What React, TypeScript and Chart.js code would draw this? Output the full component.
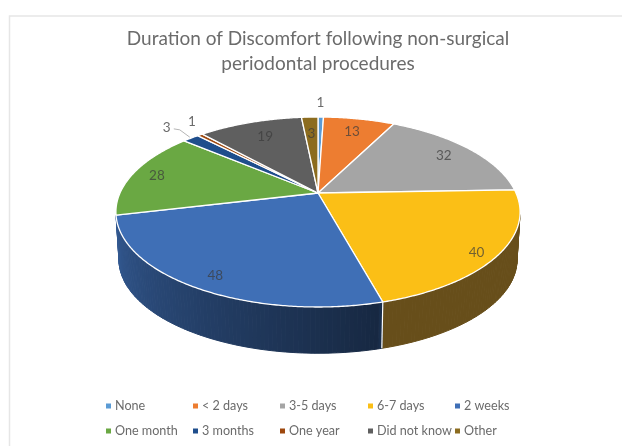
import React, { useEffect, useRef } from "react";
import { Chart, registerables } from "chart.js";

Chart.register(...registerables);

const titleLines = ["Duration of Discomfort following non-surgical", "periodontal procedures"];
const categories = ["None", "< 2 days", "3-5 days", "6-7 days", "2 weeks", "One month", "3 months", "One year", "Did not know", "Other"];
const responses = [1, 13, 32, 40, 48, 28, 3, 1, 19, 3];
const sliceColors = ["#5b9bd5", "#ed7d31", "#a5a5a5", "#fbbf16", "#3f6fb6", "#6aa843", "#1f4e8c", "#9e480e", "#5f5f5f", "#8c6c1f"];

// Where each value label sits: radial fraction of the pie, extra nudge, outside flag
const labelRadius = [1.25, 0.8, 0.82, 0.9, 0.88, 0.87, 1.22, 1.2, 0.78, 0.75];
const labelNudge = [[-1, 1], [0, 0], [0, 0], [-2, 5], [2, 1], [0, 0], [0, 0], [12, -3], [2, 1], [0, 0]];
const labelOutside = [true, false, false, false, false, false, true, true, false, false];

const FONT = "Lato, Carlito, 'Open Sans', sans-serif";
const GREY = "#6b6b6b";

// Perspective projection of the pie disc
const CX = 318;
const APEX_Y = 193;
const K = 0.2;
const project = (u: number, v: number, bottom = false) => {
  const w = 1 - K * v;
  const b = bottom ? 195 : 198;
  const a = bottom ? 89.8 : 91.2;
  const y0 = bottom ? 241 : APEX_Y;
  return [CX + (b * u) / w, y0 + (a * v) / w];
};

const shade = (hex: string, f: number) => {
  const n = parseInt(hex.slice(1), 16);
  const c = [(n >> 16) & 255, (n >> 8) & 255, n & 255].map((x) => Math.round(x * f));
  return `rgb(${c[0]},${c[1]},${Math.max(c[2], 26)})`;
};

// brightness of the side wall by clockwise degrees from twelve o'clock
const wallLight = (deg: number) => {
  if (deg < 165) return 0.41;
  if (deg > 262) return 0.8;
  return 0.36 + ((deg - 165) / 97) * 0.46;
};

const pie3d = {
  id: "pie3d",
  beforeDraw(chart: any) {
    const { ctx } = chart;
    ctx.save();
    ctx.strokeStyle = "#e6e6e6";
    ctx.lineWidth = 1.5;
    ctx.beginPath();
    ctx.moveTo(9.5, 446);
    ctx.lineTo(9.5, 16);
    ctx.lineTo(622, 16);
    ctx.stroke();
    ctx.restore();
  },
  beforeDatasetsDraw(chart: any) {
    const { ctx } = chart;
    const arcs = chart.getDatasetMeta(0).data;
    const step = Math.PI / 180;
    ctx.save();
    // side walls
    arcs.forEach((arc: any, i: number) => {
      const { startAngle, endAngle } = arc.getProps(["startAngle", "endAngle"], true);
      if (i === 5) return; // the green slice's wall is out of sight
      for (let a = startAngle; a < endAngle - 1e-6; a += step) {
        const e = Math.min(a + step, endAngle);
        if (Math.sin(a) < 0.22) continue;
        const p1 = project(Math.cos(a), Math.sin(a));
        const p2 = project(Math.cos(e), Math.sin(e));
        const p3 = project(Math.cos(e), Math.sin(e), true);
        const p4 = project(Math.cos(a), Math.sin(a), true);
        const deg = ((a + Math.PI / 2) * 180) / Math.PI;
        const col = shade(sliceColors[i], wallLight(deg));
        ctx.fillStyle = col;
        ctx.strokeStyle = col;
        ctx.lineWidth = 1;
        ctx.beginPath();
        ctx.moveTo(p1[0], p1[1]);
        ctx.lineTo(p2[0], p2[1]);
        ctx.lineTo(p3[0], p3[1]);
        ctx.lineTo(p4[0], p4[1]);
        ctx.closePath();
        ctx.fill();
        ctx.stroke();
      }
    });
    arcs.forEach((arc: any) => {
      const { endAngle } = arc.getProps(["endAngle"], true);
      if (Math.sin(endAngle) > 0.5) {
        const t = project(Math.cos(endAngle), Math.sin(endAngle));
        const b = project(Math.cos(endAngle), Math.sin(endAngle), true);
        ctx.strokeStyle = "#ffffff";
        ctx.lineWidth = 1.2;
        ctx.beginPath();
        ctx.moveTo(t[0], t[1]);
        ctx.lineTo(b[0], b[1]);
        ctx.stroke();
      }
    });
    // top faces
    ctx.lineJoin = "round";
    arcs.forEach((arc: any, i: number) => {
      const { startAngle, endAngle } = arc.getProps(["startAngle", "endAngle"], true);
      ctx.beginPath();
      ctx.moveTo(CX, APEX_Y);
      for (let a = startAngle; ; a += step / 2) {
        const t = Math.min(a, endAngle);
        const p = project(Math.cos(t), Math.sin(t));
        ctx.lineTo(p[0], p[1]);
        if (a >= endAngle) break;
      }
      ctx.closePath();
      ctx.fillStyle = sliceColors[i];
      ctx.fill();
      ctx.strokeStyle = "#ffffff";
      ctx.lineWidth = 1.3;
      ctx.stroke();
    });
    // value labels
    ctx.font = `13.5px ${FONT}`;
    ctx.textAlign = "center";
    ctx.textBaseline = "middle";
    arcs.forEach((arc: any, i: number) => {
      const { startAngle, endAngle } = arc.getProps(["startAngle", "endAngle"], true);
      const mid = (startAngle + endAngle) / 2;
      const r = labelRadius[i];
      const p = project(r * Math.cos(mid), r * Math.sin(mid));
      ctx.fillStyle = labelOutside[i] ? GREY : "rgba(60,60,60,0.72)";
      ctx.fillText(String(responses[i]), p[0] + labelNudge[i][0], p[1] + labelNudge[i][1]);
    });
    // leader line for the small "3 months" slice
    const a3 = arcs[6].getProps(["startAngle", "endAngle"], true);
    const m3 = (a3.startAngle + a3.endAngle) / 2;
    const tip = project(Math.cos(m3), Math.sin(m3));
    const lab = project(labelRadius[6] * Math.cos(m3), labelRadius[6] * Math.sin(m3));
    ctx.strokeStyle = "#b5b5b5";
    ctx.lineWidth = 1;
    ctx.beginPath();
    ctx.moveTo(lab[0] + 7, lab[1] + 1);
    ctx.lineTo(lab[0] + 13, lab[1] + 2);
    ctx.lineTo(tip[0] - 1, tip[1] - 1);
    ctx.stroke();
    // legend
    const colX = [106, 193, 280, 368, 455];
    const rowY = [406, 431];
    ctx.textAlign = "left";
    ctx.font = `12.6px ${FONT}`;
    categories.forEach((name, i) => {
      const x = colX[i % 5];
      const y = rowY[Math.floor(i / 5)];
      ctx.fillStyle = sliceColors[i];
      ctx.fillRect(x, y - 2.5, 5, 5);
      ctx.fillStyle = GREY;
      ctx.fillText(name, x + 9, y);
    });
    ctx.restore();
    return false;
  },
};

export default function App() {
  const ref = useRef<HTMLCanvasElement>(null);
  useEffect(() => {
    const chart = new Chart(ref.current!, {
      type: "pie",
      data: {
        labels: categories,
        datasets: [{ data: responses, backgroundColor: sliceColors, borderColor: "#ffffff" }],
      },
      options: {
        responsive: false,
        animation: false,
        layout: { padding: { left: 14 } },
        plugins: {
          legend: { display: false },
          tooltip: { enabled: false },
          title: {
            display: true,
            text: titleLines,
            color: GREY,
            font: { family: FONT, size: 19, weight: "normal", lineHeight: 1.32 },
            padding: { top: 26, bottom: 10 },
          },
        },
      },
      plugins: [pie3d],
    } as any);
    return () => chart.destroy();
  }, []);
  return (
    <div style={{ position: "fixed", left: 0, top: 0, width: 622, height: 446, background: "#fff" }}>
      <canvas ref={ref} width={622} height={446} style={{ display: "block" }} />
    </div>
  );
}
